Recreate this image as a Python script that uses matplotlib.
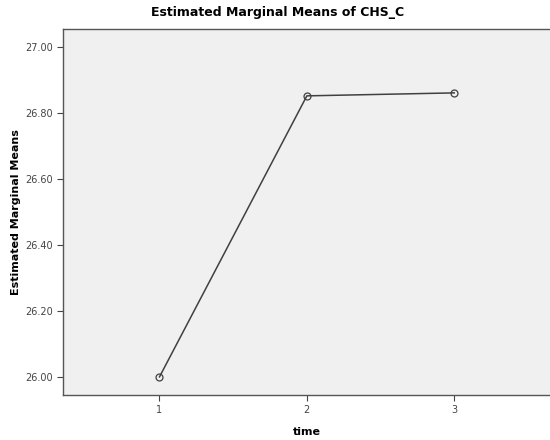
import matplotlib
matplotlib.use("Agg")
import matplotlib.pyplot as plt

# data
time_levels = [1, 2, 3]
marginal_means = [26.00, 26.852, 26.861]
y_ticks = [26.00, 26.20, 26.40, 26.60, 26.80, 27.00]

fig = plt.figure(figsize=(5.5, 4.4), dpi=100)
ax = fig.add_axes([0.1145, 0.1023, 0.8855, 0.832])
ax.set_facecolor('#f0f0f0')

ax.plot(time_levels, marginal_means, color='#404040', linewidth=1.1,
        marker='o', markersize=5, markerfacecolor='none',
        markeredgecolor='#404040', markeredgewidth=0.9)

ax.set_xlim(0.345, 3.65)
ax.set_ylim(25.945, 27.055)
ax.set_xticks(time_levels)
ax.set_xticklabels([str(t) for t in time_levels])
ax.set_yticks(y_ticks)
ax.set_yticklabels([f'{v:.2f}' for v in y_ticks])
ax.tick_params(labelsize=7, colors='#444444', length=4, width=0.8, direction='out')

for side in ['left', 'top', 'bottom']:
    ax.spines[side].set_color('#555555')
    ax.spines[side].set_linewidth(1.0)
ax.spines['right'].set_visible(False)

# SPSS centres the title on the whole chart, not the plot area
fig.text(0.505, 0.972, 'Estimated Marginal Means of CHS_C', fontsize=9,
         fontweight='bold', ha='center', va='center')
ax.set_xlabel('time', fontsize=8, fontweight='bold', labelpad=8)
ax.set_ylabel('Estimated Marginal Means', fontsize=8, fontweight='bold', labelpad=3)

fig.savefig('out.png', dpi=100)
